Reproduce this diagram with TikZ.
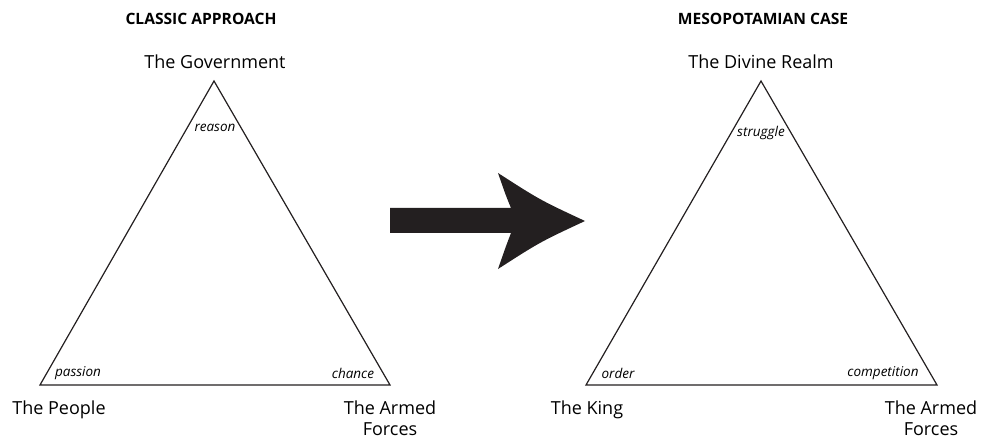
\documentclass[tikz,border=0pt]{standalone}
\usepackage{fontspec}
\setmainfont{Open Sans}
\usepackage{tikz}
\usetikzlibrary{positioning,calc}
\definecolor{InkBlack}{HTML}{231F20}

\begin{document}
\begin{tikzpicture}[
  x=1pt,y=-1pt,
  title/.style={font=\fontsize{15.6}{18}\selectfont\bfseries,inner sep=0pt},
  actor/.style={font=\fontsize{18}{20.5}\selectfont,align=center,inner sep=0pt},
  force/.style={font=\fontsize{13.5}{15}\selectfont\itshape,inner sep=0pt},
  trinity/.style={draw=InkBlack,line width=1.2pt,line join=miter}
]
\useasboundingbox (0,0) rectangle (984,438);
% classic approach
\coordinate (cTop) at (214,81);
\coordinate (cLeft) at (40,385);
\coordinate (cRight) at (390,385);
\draw[trinity] (cTop)--(cLeft)--(cRight)--cycle;
\node[title] (cTitle) at (201,19) {CLASSIC APPROACH};
\node[actor] (gov) at (215,62) {The Government};
\node[actor] (people) at (59,410) {The People};
\node[actor,anchor=north] (armyA) at (390,401) {The Armed\\Forces};
\node[force] (reason) at (215,128) {reason};
\node[force] (passion) at (78,373) {passion};
\node[force] (chance) at (353,373) {chance};
% mesopotamian case
\coordinate (mTop) at (761,81);
\coordinate (mLeft) at (586,385);
\coordinate (mRight) at (937,385);
\draw[trinity] (mTop)--(mLeft)--(mRight)--cycle;
\node[title] (mTitle) at (763,19) {MESOPOTAMIAN CASE};
\node[actor] (divine) at (761,62) {The Divine Realm};
\node[actor] (king) at (587,410) {The King};
\node[actor,anchor=north] (armyB) at (931,401) {The Armed\\Forces};
\node[force] (struggle) at (761,133) {struggle};
\node[force] (order) at (618,373) {order};
\node[force] (compet) at (883,373) {competition};
% big arrow
\fill[InkBlack] (390,208) -- (511,208)
  .. controls (506,196) .. (498,173)
  .. controls (540,200) .. (585,221)
  .. controls (540,242) .. (498,269)
  .. controls (506,246) .. (511,233)
  -- (390,233) -- cycle;
\end{tikzpicture}
\end{document}
